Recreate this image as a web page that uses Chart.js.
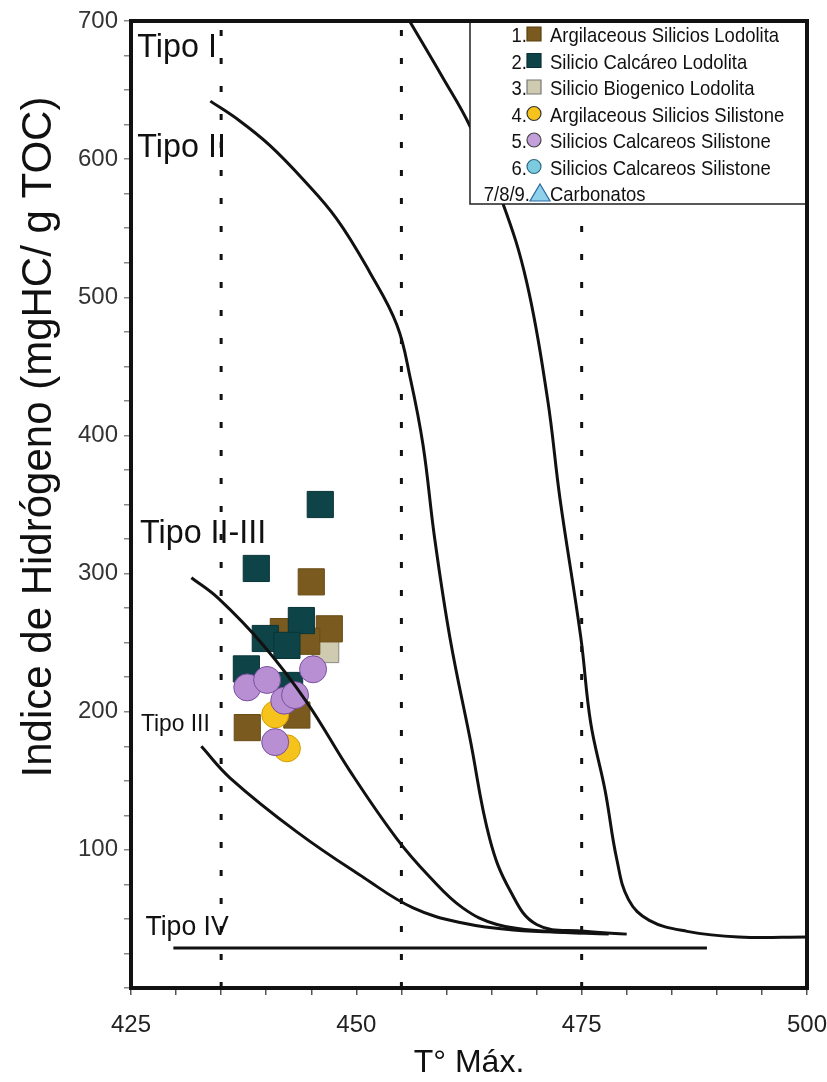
<!DOCTYPE html>
<html>
<head>
<meta charset="utf-8">
<script src="https://cdn.jsdelivr.net/npm/chart.js@4.4.0/dist/chart.umd.min.js"></script>
<style>
  html, body { margin: 0; padding: 0; background: #fff; }
</style>
</head>
<body>
<canvas id="grafico" width="827" height="1082"></canvas>
<script>
// curvas de tipo de kerogeno
const tipo1X = [455.9, 459.5, 462.6, 466.2, 468.9, 471.2, 472.6, 474.9, 476.0, 477.6, 478.9, 480.2, 482.5, 486.7, 492.4, 500];
const tipo1Y = [700, 660, 624, 569, 511, 427, 354, 254, 192, 143, 93, 64, 49, 41, 37, 37];
const tipo2X = [433.8, 437.0, 440.4, 444.0, 447.8, 451.5, 454.5, 456.0, 457.4, 458.7, 460.4, 462.6, 464.8, 467.1, 470.0, 475.3, 480.0];
const tipo2Y = [642, 628, 610, 586, 557, 518, 480, 441, 393, 325, 253, 181, 108, 70, 46, 41, 39];
const tipo23X = [431.7, 434.7, 439.7, 444.5, 449.3, 454.5, 458.2, 461.8, 465.6, 471.2, 478.0];
const tipo23Y = [297, 282, 248, 207, 157, 108, 80, 58, 46, 41, 39];
const tipo3X = [432.8, 436.0, 443.4, 450.8, 456.3, 461.8, 467.4, 475.0];
const tipo3Y = [175, 152, 113, 80, 58, 47, 42, 40];
const tipo4X = [429.7, 488.9];
const tipo4Y = [29, 29];
const lineasTmax = [435, 455, 475];

// muestras
const argLodX = [445.0, 447.0, 444.5, 441.9, 437.9, 443.4];
const argLodY = [294, 260, 251, 258, 188.5, 197.6];
const calcLodX = [446.0, 438.9, 443.9, 439.9, 442.3, 437.8, 442.6];
const calcLodY = [350, 303.7, 266, 253, 248, 231, 219];
const bioLodX = [446.6];
const bioLodY = [245];
const argSilX = [441.0, 442.3];
const argSilY = [198, 173.5];
const calcSilX = [445.2, 437.9, 440.1, 442.0, 443.2, 441.0];
const calcSilY = [230.7, 217.6, 223, 208, 212, 178];

const leyendaNum = ['1.', '2.', '3.', '4.', '5.', '6.', '7/8/9.'];
const leyendaTxt = ['Argilaceous Silicios Lodolita', 'Silicio Calcáreo Lodolita', 'Silicio Biogenico Lodolita',
  'Argilaceous Silicios Silistone', 'Silicios Calcareos Silistone', 'Silicios Calcareos Silistone', 'Carbonatos'];
const leyendaForma = ['rect', 'rect', 'rect', 'circle', 'circle', 'circle', 'triangle'];
const leyendaColor = ['#7a5a1e', '#0e4448', '#cfcbb0', '#f6c21c', '#c3a0da', '#7ccbe0', '#8fd0ea'];
const leyendaBorde = ['#5a400f', '#0a3034', '#777', '#333', '#444', '#2a6a80', '#2a6aa0'];

const etiquetas = ['Tipo I', 'Tipo II', 'Tipo II-III', 'Tipo III', 'Tipo IV'];
const etiquetaX = [425.7, 425.7, 426.0, 426.1, 426.6];
const etiquetaY = [674, 601.6, 321.8, 185.8, 38.3];
const etiquetaTam = [34, 34, 34, 24, 28];

const FUENTE = '"Liberation Sans", Arial, sans-serif';

function puntos(xs, ys) {
  return xs.map((x, i) => ({ x: x, y: ys[i] }));
}

function curva(xs, ys) {
  return {
    data: puntos(xs, ys),
    showLine: true,
    borderColor: '#111',
    borderWidth: 3,
    pointRadius: 0,
    tension: 0.4,
    fill: false,
    order: 1
  };
}

function muestras(xs, ys, forma, color, borde, radio, orden) {
  return {
    data: puntos(xs, ys),
    pointStyle: forma,
    pointRadius: radio,
    pointHoverRadius: radio,
    backgroundColor: color,
    borderColor: borde,
    borderWidth: 1,
    showLine: false,
    order: orden
  };
}

const datasets = [
  curva(tipo1X, tipo1Y),
  curva(tipo2X, tipo2Y),
  curva(tipo23X, tipo23Y),
  curva(tipo3X, tipo3Y),
  curva(tipo4X, tipo4Y)
];
lineasTmax.forEach(function (t) {
  datasets.push({
    data: [{ x: t, y: 0 }, { x: t, y: 700 }],
    showLine: true,
    borderColor: '#111',
    borderWidth: 3,
    borderDash: [6, 22],
    pointRadius: 0,
    order: 1
  });
});
datasets.push(muestras(bioLodX, bioLodY, 'rect', '#cfcbb0', '#8a8a80', 18.5, 7));
datasets.push(muestras(argLodX, argLodY, 'rect', '#7a5a1e', '#6a4c16', 18.5, 6));
datasets.push(muestras(calcLodX, calcLodY, 'rect', '#0e4448', '#0a3538', 18.5, 5));
datasets.push(muestras(argSilX, argSilY, 'circle', '#f6c21c', '#d29e00', 13.5, 4));
datasets.push(muestras(calcSilX, calcSilY, 'circle', '#b98fd3', '#7b4fa0', 13.5, 3));

function texto(ctx, str, x, y, size, escala, align) {
  ctx.save();
  ctx.font = size + 'px ' + FUENTE;
  ctx.translate(x, y);
  ctx.scale(escala, 1);
  ctx.textAlign = align || 'left';
  ctx.textBaseline = 'alphabetic';
  ctx.fillStyle = '#111';
  ctx.fillText(str, 0, 0);
  ctx.restore();
}

function marcador(ctx, forma, x, y, color, borde) {
  ctx.save();
  ctx.fillStyle = color;
  ctx.strokeStyle = borde;
  ctx.lineWidth = 1.2;
  ctx.beginPath();
  if (forma === 'rect') {
    ctx.rect(x - 7, y - 7, 14, 14);
  } else if (forma === 'circle') {
    ctx.arc(x, y, 7, 0, Math.PI * 2);
  } else {
    ctx.moveTo(x, y - 9);
    ctx.lineTo(x + 10, y + 8);
    ctx.lineTo(x - 10, y + 8);
    ctx.closePath();
  }
  ctx.fill();
  ctx.stroke();
  ctx.restore();
}

const decorado = {
  id: 'decorado',
  afterDatasetsDraw(chart) {
    const ctx = chart.ctx;
    const a = chart.chartArea;
    const sx = chart.scales.x, sy = chart.scales.y;

    // etiquetas de tipos
    etiquetas.forEach(function (t, i) {
      texto(ctx, t, sx.getPixelForValue(etiquetaX[i]), sy.getPixelForValue(etiquetaY[i]), etiquetaTam[i], 0.95);
    });

    // leyenda
    const lx = a.right - 337, ly = a.top, lw = 337, lh = 183;
    ctx.save();
    ctx.fillStyle = '#fff';
    ctx.fillRect(lx, ly, lw, lh);
    ctx.strokeStyle = '#222';
    ctx.lineWidth = 1.5;
    ctx.strokeRect(lx, ly, lw, lh);
    ctx.restore();
    leyendaTxt.forEach(function (t, i) {
      const cy = ly + 13 + i * 26.5;
      const mx = lx + (i === 6 ? 70 : 64);
      texto(ctx, leyendaNum[i], mx - (i === 6 ? 10 : 7), cy + 8, 21, 0.88, 'right');
      marcador(ctx, leyendaForma[i], mx, cy, leyendaColor[i], leyendaBorde[i]);
      texto(ctx, t, lx + 80, cy + 8, 21, 0.88, 'left');
    });

    // titulo eje y
    ctx.save();
    ctx.translate(39, 437);
    ctx.rotate(-Math.PI / 2);
    ctx.font = '42px ' + FUENTE;
    ctx.fillStyle = '#111';
    ctx.textAlign = 'center';
    ctx.textBaseline = 'middle';
    ctx.fillText('Indice de Hidrógeno (mgHC/ g TOC)', 0, 0);
    ctx.restore();

    // marco
    ctx.save();
    ctx.strokeStyle = '#111';
    ctx.lineWidth = 4;
    ctx.strokeRect(a.left, a.top, a.right - a.left, a.bottom - a.top);
    ctx.restore();
  }
};

Chart.defaults.font.family = FUENTE;

new Chart(document.getElementById('grafico').getContext('2d'), {
  type: 'scatter',
  data: { datasets: datasets },
  options: {
    responsive: false,
    animation: false,
    layout: { padding: { top: 21, right: 20, left: 0, bottom: 0 } },
    plugins: { legend: { display: false }, tooltip: { enabled: false } },
    scales: {
      x: {
        type: 'linear',
        min: 425,
        max: 500,
        afterFit: function (s) { s.height = 94; s.paddingRight = 0; s.paddingLeft = 0; },
        border: { display: false },
        grid: { drawOnChartArea: false, drawTicks: true, tickLength: 7, color: '#555', lineWidth: 1.5 },
        ticks: {
          stepSize: 5,
          autoSkip: false,
          maxRotation: 0,
          padding: 16,
          color: '#222',
          font: { size: 24 },
          callback: function (v) { return v % 25 === 0 ? v : ''; }
        },
        title: { display: true, text: 'T° Máx.', color: '#111', font: { size: 32 }, padding: { top: 0, bottom: 0 } }
      },
      y: {
        type: 'linear',
        min: 0,
        max: 700,
        afterFit: function (s) { s.width = 131; s.paddingTop = 0; s.paddingBottom = 0; },
        border: { display: false },
        grid: { drawOnChartArea: false, drawTicks: true, tickLength: 7, color: '#888', lineWidth: 1.5 },
        ticks: {
          stepSize: 25,
          autoSkip: false,
          padding: 6,
          color: '#333',
          font: { size: 24 },
          callback: function (v) { return (v % 100 === 0 && v > 0) ? v : ''; }
        }
      }
    }
  },
  plugins: [decorado]
});
</script>
</body>
</html>
